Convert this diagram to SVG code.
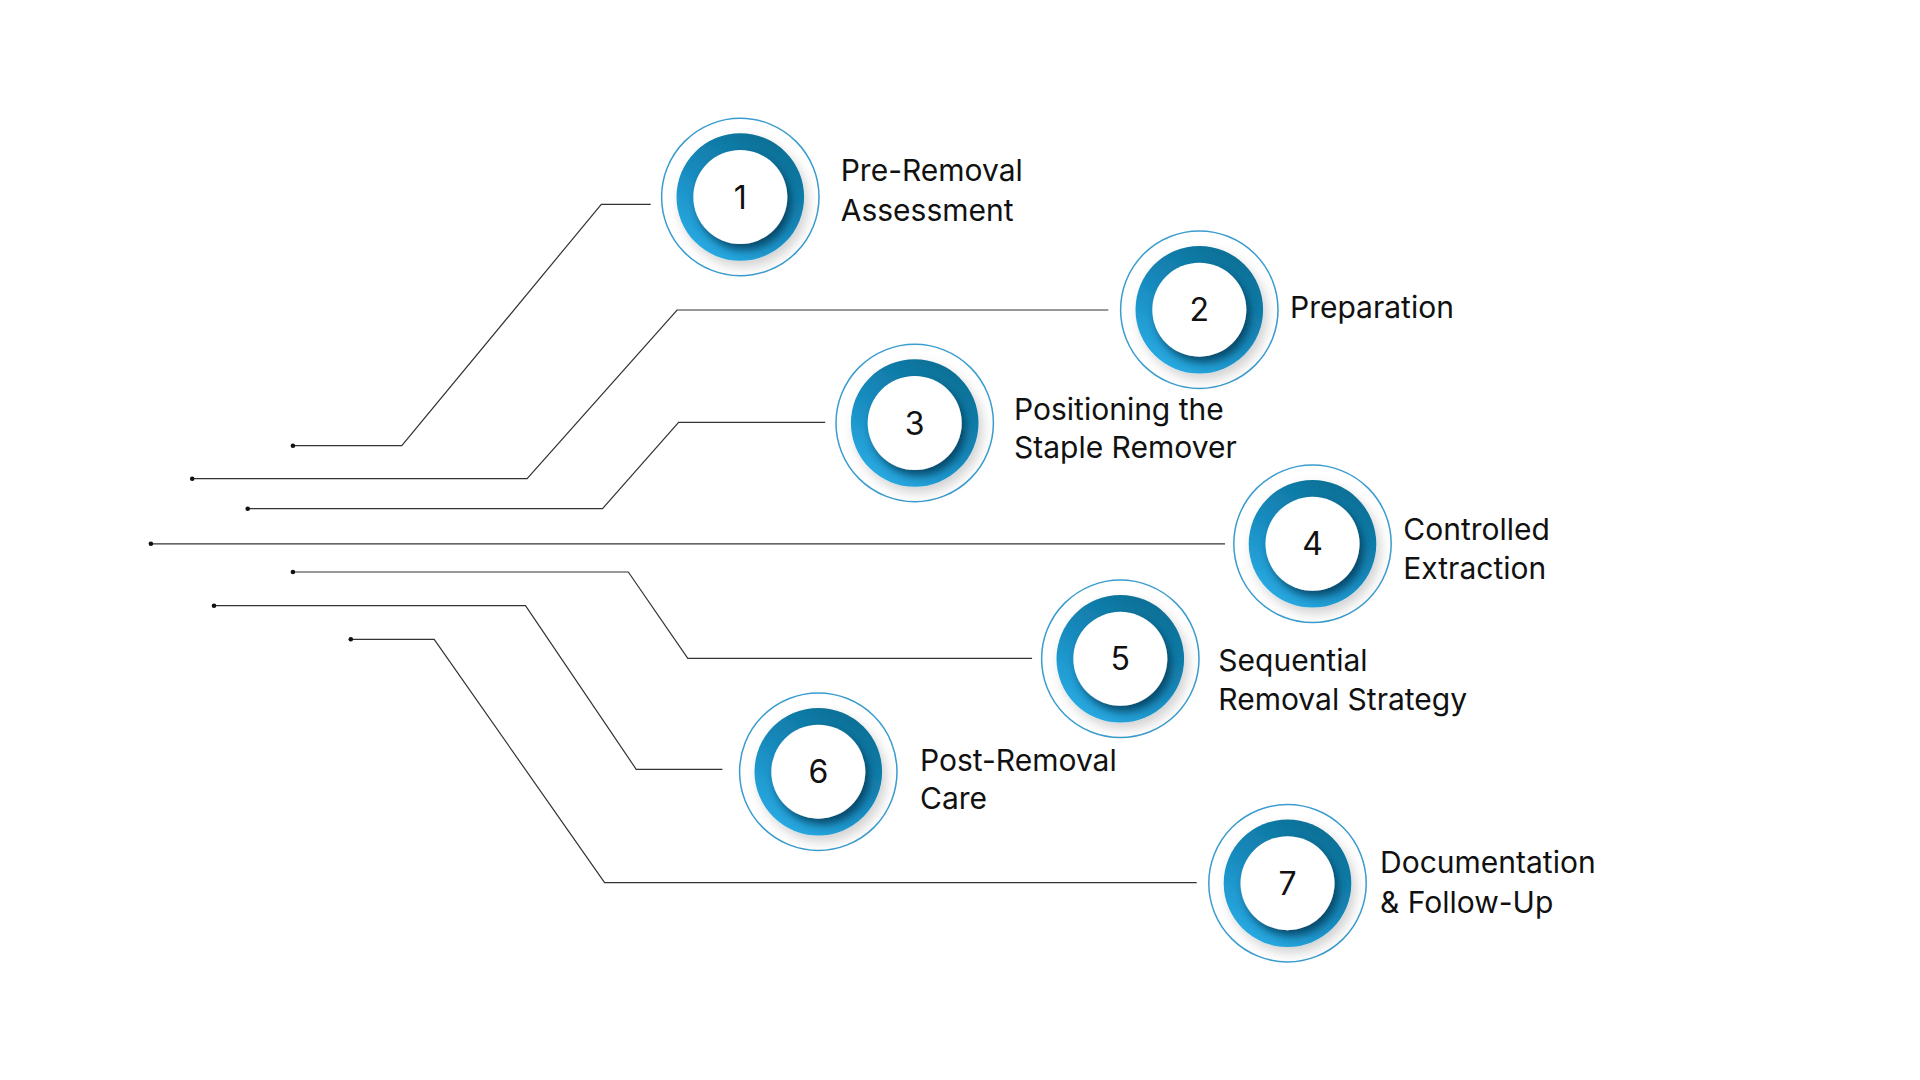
<svg xmlns="http://www.w3.org/2000/svg" width="1920" height="1080" viewBox="0 0 1920 1080">
  <defs>
    <linearGradient id="ringGrad" x1="0.8" y1="0.05" x2="0.2" y2="0.95">
      <stop offset="0" stop-color="#0a6e93"/>
      <stop offset="0.5" stop-color="#1688bb"/>
      <stop offset="1" stop-color="#29abe3"/>
    </linearGradient>
    <filter id="ringShadow" x="-40%" y="-40%" width="180%" height="180%">
      <feDropShadow dx="4" dy="6" stdDeviation="6" flood-color="#000" flood-opacity="0.18"/>
    </filter>
    <filter id="innerShadow" x="-40%" y="-40%" width="180%" height="180%">
      <feDropShadow dx="4" dy="6" stdDeviation="4" flood-color="#02334d" flood-opacity="0.75"/>
    </filter>
    <style>
      .outer { fill: #ffffff; stroke: #3a9ccf; stroke-width: 1.5; }
      .ring { fill: url(#ringGrad); filter: url(#ringShadow); }
      .inner { fill: #ffffff; filter: url(#innerShadow); }
      .num { font-family: Inter, "Liberation Sans", sans-serif; font-size: 32px; fill: #111111; text-anchor: middle; }
      .label { font-family: Inter, "Liberation Sans", sans-serif; font-size: 30px; fill: #111111; }
      .conn { fill: none; stroke: #333333; stroke-width: 1.2; stroke-linejoin: miter; }
      .dot { fill: #111111; }
    </style>
  </defs>
  <rect width="1920" height="1080" fill="#ffffff"/>

  <g id="connectors">
    <polyline class="conn" points="292.9,445.7 401.8,445.7 601.3,204.3 650.7,204.3"/>
    <polyline class="conn" points="192.2,478.7 527.1,478.7 677.1,310 1108.3,310"/>
    <polyline class="conn" points="247.7,508.7 602.5,508.7 678.6,422.3 825.2,422.3"/>
    <polyline class="conn" points="150.9,543.8 1225,543.8"/>
    <polyline class="conn" points="292.9,572 628.3,572 687.8,658.3 1032.1,658.3"/>
    <polyline class="conn" points="214,605.7 525.5,605.7 636.2,769.3 722.4,769.3"/>
    <polyline class="conn" points="350.8,639.3 434.2,639.3 604.6,882.7 1196.7,882.7"/>
    <circle class="dot" cx="292.9" cy="445.7" r="2.3"/>
    <circle class="dot" cx="192.2" cy="478.7" r="2.3"/>
    <circle class="dot" cx="247.7" cy="508.7" r="2.3"/>
    <circle class="dot" cx="150.9" cy="543.8" r="2.3"/>
    <circle class="dot" cx="292.9" cy="572" r="2.3"/>
    <circle class="dot" cx="214" cy="605.7" r="2.3"/>
    <circle class="dot" cx="350.8" cy="639.3" r="2.3"/>
  </g>

  <g id="node1">
    <g transform="translate(740.3,197)">
      <circle class="outer" r="78.7"/>
      <circle class="ring" r="63.8"/>
      <circle class="inner" r="47"/>
      <text class="num" y="11.5">1</text>
    </g>
    <text class="label" x="840.7" y="181">Pre-Removal</text>
    <text class="label" x="840.7" y="220.7">Assessment</text>
  </g>

  <g id="node2">
    <g transform="translate(1199.3,309.7)">
      <circle class="outer" r="78.7"/>
      <circle class="ring" r="63.8"/>
      <circle class="inner" r="47"/>
      <text class="num" y="11.5">2</text>
    </g>
    <text class="label" x="1290" y="318.3">Preparation</text>
  </g>

  <g id="node3">
    <g transform="translate(914.7,423)">
      <circle class="outer" r="78.7"/>
      <circle class="ring" r="63.8"/>
      <circle class="inner" r="47"/>
      <text class="num" y="11.5">3</text>
    </g>
    <text class="label" x="1014" y="420">Positioning the</text>
    <text class="label" x="1014" y="458.3">Staple Remover</text>
  </g>

  <g id="node4">
    <g transform="translate(1312.5,543.8)">
      <circle class="outer" r="78.7"/>
      <circle class="ring" r="63.8"/>
      <circle class="inner" r="47"/>
      <text class="num" y="11.5">4</text>
    </g>
    <text class="label" x="1403.3" y="540">Controlled</text>
    <text class="label" x="1403.3" y="579.3">Extraction</text>
  </g>

  <g id="node5">
    <g transform="translate(1120.3,658.8)">
      <circle class="outer" r="78.7"/>
      <circle class="ring" r="63.8"/>
      <circle class="inner" r="47"/>
      <text class="num" y="11.5">5</text>
    </g>
    <text class="label" x="1218.3" y="670.7">Sequential</text>
    <text class="label" x="1218.3" y="710">Removal Strategy</text>
  </g>

  <g id="node6">
    <g transform="translate(818.3,771.7)">
      <circle class="outer" r="78.7"/>
      <circle class="ring" r="63.8"/>
      <circle class="inner" r="47"/>
      <text class="num" y="11.5">6</text>
    </g>
    <text class="label" x="920" y="771">Post-Removal</text>
    <text class="label" x="920" y="809.3">Care</text>
  </g>

  <g id="node7">
    <g transform="translate(1287.5,883.2)">
      <circle class="outer" r="78.7"/>
      <circle class="ring" r="63.8"/>
      <circle class="inner" r="47"/>
      <text class="num" y="11.5">7</text>
    </g>
    <text class="label" x="1380" y="873.3">Documentation</text>
    <text class="label" x="1380" y="912.7">&amp; Follow-Up</text>
  </g>
</svg>
